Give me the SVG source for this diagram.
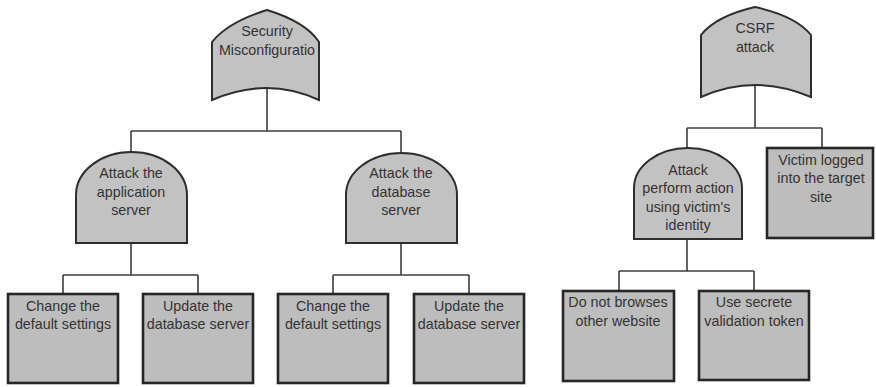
<svg xmlns="http://www.w3.org/2000/svg" width="876" height="387" viewBox="0 0 876 387">
<style>
.gate{fill:#c2c2c2;stroke:#2e2e2e;stroke-width:2}
.box{fill:#bdbdbd;stroke:#262626;stroke-width:2.6}
.conn line{stroke:#3c3c3c;stroke-width:1.6}
text{font-family:"Liberation Sans",Arial,sans-serif;font-size:14.3px;fill:#333;text-anchor:middle}
</style>
<rect width="876" height="387" fill="#fff"/>
<g class="conn">
<line x1="267" y1="88" x2="267" y2="131"/>
<line x1="131" y1="131" x2="401" y2="131"/>
<line x1="131" y1="131" x2="131" y2="152"/>
<line x1="401" y1="131" x2="401" y2="153"/>
<line x1="131" y1="243" x2="131" y2="275"/>
<line x1="63" y1="275" x2="198" y2="275"/>
<line x1="63" y1="275" x2="63" y2="294"/>
<line x1="198" y1="275" x2="198" y2="294"/>
<line x1="401" y1="243" x2="401" y2="275"/>
<line x1="333" y1="275" x2="469" y2="275"/>
<line x1="333" y1="275" x2="333" y2="294"/>
<line x1="469" y1="275" x2="469" y2="294"/>
<line x1="755" y1="85" x2="755" y2="128"/>
<line x1="687" y1="128" x2="822" y2="128"/>
<line x1="687" y1="128" x2="687" y2="148"/>
<line x1="822" y1="128" x2="822" y2="148"/>
<line x1="687" y1="239" x2="687" y2="271"/>
<line x1="619" y1="271" x2="754" y2="271"/>
<line x1="619" y1="271" x2="619" y2="291"/>
<line x1="754" y1="271" x2="754" y2="291"/>
</g>
<g id="security">
<path class="gate" d="M212,100 L212,42 Q228,22 267,10 Q306,22 319,42 L319,100 Q267,76 212,100 Z"/>
<text x="267" y="36">Security</text>
<text x="267" y="55">Misconfiguratio</text>
</g>
<g id="app-server">
<path class="gate" d="M76,243 L76,195 A55.5,43 0 0 1 187,195 L187,243 Z"/>
<text x="131" y="178">Attack the</text>
<text x="131" y="197">application</text>
<text x="131" y="215">server</text>
</g>
<g id="db-server">
<path class="gate" d="M346,243 L346,195 A55.5,42 0 0 1 457,195 L457,243 Z"/>
<text x="401" y="178">Attack the</text>
<text x="401" y="197">database</text>
<text x="401" y="215">server</text>
</g>
<g id="box1">
<rect class="box" x="8" y="294" width="110" height="89"/>
<text x="63" y="311">Change the</text>
<text x="63" y="329">default settings</text>
</g>
<g id="box2">
<rect class="box" x="143" y="294" width="110" height="89"/>
<text x="198" y="311">Update the</text>
<text x="198" y="329">database server</text>
</g>
<g id="box3">
<rect class="box" x="278" y="294" width="110" height="89"/>
<text x="333" y="311">Change the</text>
<text x="333" y="329">default settings</text>
</g>
<g id="box4">
<rect class="box" x="414" y="294" width="110" height="89"/>
<text x="469" y="311">Update the</text>
<text x="469" y="329">database server</text>
</g>
<g id="csrf">
<path class="gate" d="M701,97 L701,35 Q716,16 755,7 Q796,16 811,35 L811,97 Q755,73 701,97 Z"/>
<text x="755" y="33">CSRF</text>
<text x="755" y="52">attack</text>
</g>
<g id="attack-perform">
<path class="gate" d="M634,239 L634,188 A54,40 0 0 1 742,188 L742,239 Z"/>
<text x="688" y="175">Attack</text>
<text x="688" y="193">perform action</text>
<text x="688" y="212">using victim's</text>
<text x="688" y="230">identity</text>
</g>
<g id="victim-logged">
<rect class="box" x="767" y="148" width="106" height="90"/>
<text x="821" y="165">Victim logged</text>
<text x="821" y="183">into the target</text>
<text x="821" y="202">site</text>
</g>
<g id="box5">
<rect class="box" x="563" y="291" width="111" height="90"/>
<text x="618" y="307">Do not browses</text>
<text x="618" y="326">other website</text>
</g>
<g id="box6">
<rect class="box" x="699" y="291" width="110" height="89"/>
<text x="754" y="307">Use secrete</text>
<text x="754" y="326">validation token</text>
</g>
</svg>
